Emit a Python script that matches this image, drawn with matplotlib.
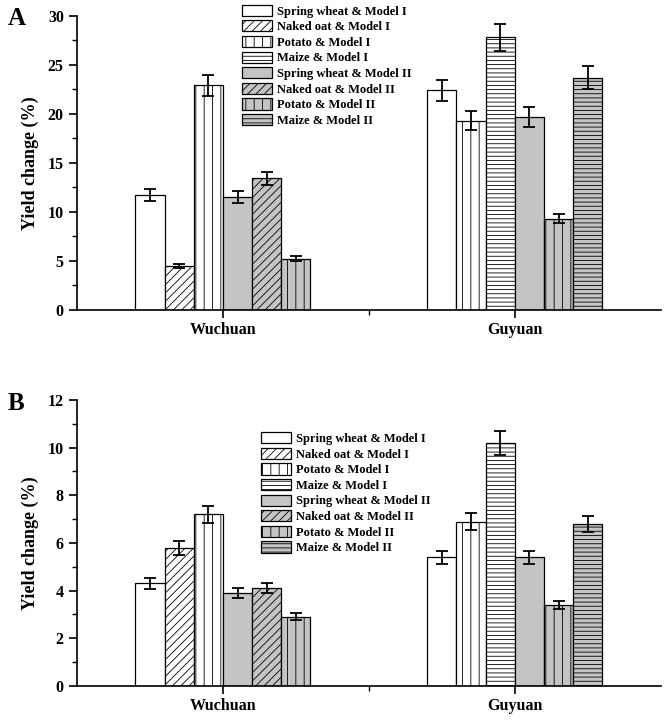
import matplotlib.pyplot as plt
from matplotlib.patches import Patch

plt.rcParams['font.family'] = ['Liberation Serif', 'DejaVu Serif']
plt.rcParams['font.weight'] = 'bold'
plt.rcParams['hatch.linewidth'] = 0.6

series = ["Spring wheat & Model I", "Naked oat & Model I", "Potato & Model I",
          "Maize & Model I", "Spring wheat & Model II", "Naked oat & Model II",
          "Potato & Model II", "Maize & Model II"]
sites = ["Wuchuan", "Guyuan"]
# which series appear at each site
wuchuan_idx = [0, 1, 2, 4, 5, 6]
guyuan_idx = [0, 2, 3, 4, 6, 7]

# panel A
a_wuchuan = [11.7, 4.5, 22.9, 11.5, 13.4, 5.2]
a_wuchuan_err = [0.6, 0.2, 1.1, 0.6, 0.65, 0.25]
a_guyuan = [22.4, 19.3, 27.8, 19.7, 9.3, 23.7]
a_guyuan_err = [1.1, 0.95, 1.4, 1.0, 0.45, 1.15]

# panel B
b_wuchuan = [4.3, 5.8, 7.2, 3.9, 4.1, 2.9]
b_wuchuan_err = [0.22, 0.3, 0.36, 0.2, 0.2, 0.15]
b_guyuan = [5.4, 6.9, 10.2, 5.4, 3.4, 6.8]
b_guyuan_err = [0.27, 0.35, 0.51, 0.27, 0.17, 0.34]

gray = '#c4c4c4'
faces = ['white'] * 4 + [gray] * 4
hatches = [None, '////', '||', '----'] * 2

fig = plt.figure(figsize=(6.64, 7.22), dpi=100)
axA = fig.add_axes([0.116, 0.571, 0.879, 0.407])
axB = fig.add_axes([0.116, 0.050, 0.879, 0.396])

w = 0.2


def draw(ax, groups, ymax, ystep, legend_xy):
    for center, idx, vals, errs in groups:
        for k, (s, v, e) in enumerate(zip(idx, vals, errs)):
            x = center + (k - 2.5) * w
            ax.bar(x, v, width=w, color=faces[s], edgecolor='black',
                   hatch=hatches[s], linewidth=0.9)
            ax.errorbar(x, v, yerr=e, color='black', capsize=4,
                        elinewidth=1.3, capthick=1.3, fmt='none')
    ax.set_xlim(0, 4)
    ax.set_ylim(0, ymax)
    ax.set_yticks(range(0, ymax + 1, ystep))
    ax.set_yticks([ystep / 2 + ystep * i for i in range(ymax // ystep)],
                  minor=True)
    ax.set_xticks([1, 3])
    ax.set_xticks([2], minor=True)
    ax.set_xticklabels(sites)
    ax.tick_params(axis='both', labelsize=11.5, width=1.2, length=6)
    ax.tick_params(axis='both', which='minor', width=1.0, length=3.5)
    ax.tick_params(axis='x', pad=3)
    for lab in ax.get_xticklabels() + ax.get_yticklabels():
        lab.set_fontweight('bold')
    ax.spines['top'].set_visible(False)
    ax.spines['right'].set_visible(False)
    ax.spines['left'].set_linewidth(1.2)
    ax.spines['bottom'].set_linewidth(1.2)
    ax.set_ylabel('Yield change (%)', fontsize=13, fontweight='bold', labelpad=6)
    handles = [Patch(facecolor=faces[i], edgecolor='black', hatch=hatches[i],
                     linewidth=0.9) for i in range(8)]
    ax.legend(handles, series, loc='upper left', bbox_to_anchor=legend_xy,
              bbox_transform=fig.transFigure, frameon=False,
              prop={'weight': 'bold', 'size': 9}, handlelength=2.4,
              handleheight=1.0, labelspacing=0.22, handletextpad=0.4,
              borderpad=0.2, borderaxespad=0)


draw(axA, [(1, wuchuan_idx, a_wuchuan, a_wuchuan_err),
           (3, guyuan_idx, a_guyuan, a_guyuan_err)], 30, 5, (0.36, 0.997))
draw(axB, [(1, wuchuan_idx, b_wuchuan, b_wuchuan_err),
           (3, guyuan_idx, b_guyuan, b_guyuan_err)], 12, 2, (0.39, 0.405))

fig.text(0.012, 0.99, 'A', fontsize=18, fontweight='bold', va='top')
fig.text(0.012, 0.457, 'B', fontsize=18, fontweight='bold', va='top')

fig.savefig('out.png', dpi=100)
